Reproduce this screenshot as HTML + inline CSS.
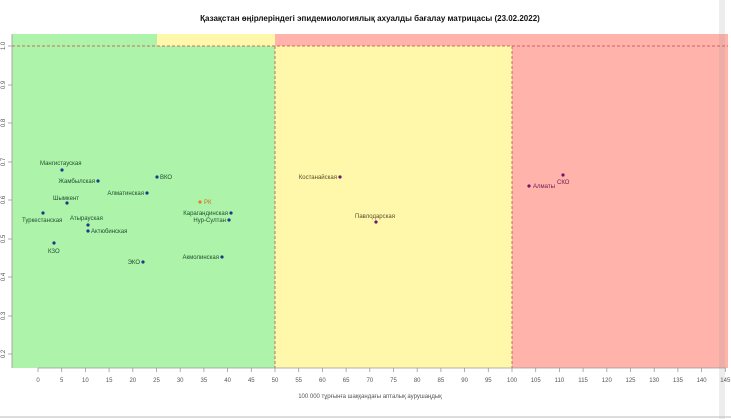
<!DOCTYPE html>
<html><head><meta charset="utf-8"><style>
html,body{margin:0;padding:0;background:#fff;}
svg{display:block;font-family:"Liberation Sans",sans-serif;}
</style></head><body>
<svg width="731" height="419" viewBox="0 0 731 419" xmlns="http://www.w3.org/2000/svg">
<rect width="731" height="419" fill="#fff"/>
<text x="370" y="21" font-size="8" font-weight="bold" text-anchor="middle" fill="#111">Қазақстан өңірлеріндегі эпидемиологиялық ахуалды бағалау матрицасы  (23.02.2022)</text>
<!-- regions -->
<rect x="12" y="34" width="145" height="12" fill="#aef3aa"/>
<rect x="157" y="34" width="118" height="12" fill="#fff8aa"/>
<rect x="275" y="34" width="453" height="12" fill="#ffb3ab"/>
<rect x="12" y="46" width="263" height="322" fill="#aef3aa"/>
<rect x="275" y="46" width="237" height="322" fill="#fff8aa"/>
<rect x="512" y="46" width="216" height="322" fill="#ffb3ab"/>
<rect x="719" y="0" width="6" height="419" fill="#999" opacity="0.18"/>
<g stroke="#c0504d" stroke-width="1" stroke-dasharray="3,2" fill="none" opacity="0.8">
<line x1="12" y1="46" x2="728" y2="46"/>
<line x1="275" y1="46" x2="275" y2="368"/>
<line x1="512" y1="46" x2="512" y2="368"/>
</g>
<!-- axes -->
<line x1="12" y1="34" x2="12" y2="368" stroke="#999" stroke-width="0.8"/>
<line x1="38" y1="368" x2="726" y2="368" stroke="#999" stroke-width="0.8"/>
<g font-size="6" fill="#555" text-anchor="middle">
<g stroke="#999" stroke-width="0.8">
<line x1="38" y1="368" x2="38" y2="372"/><line x1="61.7" y1="368" x2="61.7" y2="372"/><line x1="85.4" y1="368" x2="85.4" y2="372"/><line x1="109.1" y1="368" x2="109.1" y2="372"/><line x1="132.8" y1="368" x2="132.8" y2="372"/><line x1="156.5" y1="368" x2="156.5" y2="372"/><line x1="180.2" y1="368" x2="180.2" y2="372"/><line x1="203.9" y1="368" x2="203.9" y2="372"/><line x1="227.6" y1="368" x2="227.6" y2="372"/><line x1="251.3" y1="368" x2="251.3" y2="372"/><line x1="275" y1="368" x2="275" y2="372"/><line x1="298.7" y1="368" x2="298.7" y2="372"/><line x1="322.4" y1="368" x2="322.4" y2="372"/><line x1="346.1" y1="368" x2="346.1" y2="372"/><line x1="369.8" y1="368" x2="369.8" y2="372"/><line x1="393.5" y1="368" x2="393.5" y2="372"/><line x1="417.2" y1="368" x2="417.2" y2="372"/><line x1="440.9" y1="368" x2="440.9" y2="372"/><line x1="464.6" y1="368" x2="464.6" y2="372"/><line x1="488.3" y1="368" x2="488.3" y2="372"/><line x1="512" y1="368" x2="512" y2="372"/><line x1="535.7" y1="368" x2="535.7" y2="372"/><line x1="559.4" y1="368" x2="559.4" y2="372"/><line x1="583.1" y1="368" x2="583.1" y2="372"/><line x1="606.8" y1="368" x2="606.8" y2="372"/><line x1="630.5" y1="368" x2="630.5" y2="372"/><line x1="654.2" y1="368" x2="654.2" y2="372"/><line x1="677.9" y1="368" x2="677.9" y2="372"/><line x1="701.6" y1="368" x2="701.6" y2="372"/><line x1="725.3" y1="368" x2="725.3" y2="372"/>
</g>
<text x="38" y="382">0</text><text x="61.7" y="382">5</text><text x="85.4" y="382">10</text><text x="109.1" y="382">15</text><text x="132.8" y="382">20</text><text x="156.5" y="382">25</text><text x="180.2" y="382">30</text><text x="203.9" y="382">35</text><text x="227.6" y="382">40</text><text x="251.3" y="382">45</text><text x="275" y="382">50</text><text x="298.7" y="382">55</text><text x="322.4" y="382">60</text><text x="346.1" y="382">65</text><text x="369.8" y="382">70</text><text x="393.5" y="382">75</text><text x="417.2" y="382">80</text><text x="440.9" y="382">85</text><text x="464.6" y="382">90</text><text x="488.3" y="382">95</text><text x="512" y="382">100</text><text x="535.7" y="382">105</text><text x="559.4" y="382">110</text><text x="583.1" y="382">115</text><text x="606.8" y="382">120</text><text x="630.5" y="382">125</text><text x="654.2" y="382">130</text><text x="677.9" y="382">135</text><text x="701.6" y="382">140</text><text x="725.3" y="382">145</text>
<text x="370" y="398">100 000 тұрғынға шаққандағы апталық аурушаңдық</text>
</g>
<g font-size="6" fill="#555" stroke="none">
<g stroke="#999" stroke-width="0.8">
<line x1="8" y1="46" x2="12" y2="46"/><line x1="8" y1="85" x2="12" y2="85"/><line x1="8" y1="123" x2="12" y2="123"/><line x1="8" y1="162" x2="12" y2="162"/><line x1="8" y1="200" x2="12" y2="200"/><line x1="8" y1="239" x2="12" y2="239"/><line x1="8" y1="277" x2="12" y2="277"/><line x1="8" y1="316" x2="12" y2="316"/><line x1="8" y1="354" x2="12" y2="354"/>
</g>
<text transform="translate(5,46) rotate(-90)" text-anchor="middle">1.0</text>
<text transform="translate(5,85) rotate(-90)" text-anchor="middle">0.9</text>
<text transform="translate(5,123) rotate(-90)" text-anchor="middle">0.8</text>
<text transform="translate(5,162) rotate(-90)" text-anchor="middle">0.7</text>
<text transform="translate(5,200) rotate(-90)" text-anchor="middle">0.6</text>
<text transform="translate(5,239) rotate(-90)" text-anchor="middle">0.5</text>
<text transform="translate(5,277) rotate(-90)" text-anchor="middle">0.4</text>
<text transform="translate(5,316) rotate(-90)" text-anchor="middle">0.3</text>
<text transform="translate(5,354) rotate(-90)" text-anchor="middle">0.2</text>
</g>
<!-- points -->
<g fill="#1a3a8a">
<circle cx="62" cy="170" r="1.6"/><circle cx="98" cy="181" r="1.6"/><circle cx="157" cy="177" r="1.6"/><circle cx="147" cy="193" r="1.6"/><circle cx="67" cy="203" r="1.6"/><circle cx="43" cy="213" r="1.6"/><circle cx="88" cy="225" r="1.6"/><circle cx="88" cy="231" r="1.6"/><circle cx="231" cy="213" r="1.6"/><circle cx="229" cy="220" r="1.6"/><circle cx="54" cy="243" r="1.6"/><circle cx="143" cy="262" r="1.6"/><circle cx="222" cy="257" r="1.6"/>
</g>
<circle cx="200" cy="202" r="1.6" fill="#e07a30"/>
<g fill="#6a1a6a"><circle cx="340" cy="177" r="1.6"/><circle cx="376" cy="222" r="1.6"/><circle cx="529" cy="186" r="1.6"/><circle cx="563" cy="175" r="1.6"/></g>
<g font-size="6" fill="#1f4f2f">
<text x="40" y="165">Мангистауская</text>
<text x="95" y="183" text-anchor="end">Жамбылская</text>
<text x="160" y="179">ВКО</text>
<text x="144" y="195" text-anchor="end">Алматинская</text>
<text x="53" y="200">Шымкент</text>
<text x="22" y="222">Туркестанская</text>
<text x="70" y="220">Атырауская</text>
<text x="91" y="233">Актюбинская</text>
<text x="228" y="215" text-anchor="end">Карагандинская</text>
<text x="226" y="222" text-anchor="end">Нур-Султан</text>
<text x="48" y="253">КЗО</text>
<text x="140" y="264" text-anchor="end">ЭКО</text>
<text x="219" y="259" text-anchor="end">Акмолинская</text>
</g>
<text x="204" y="204" font-size="6" fill="#d06a20">РК</text>
<g font-size="6" fill="#5a4a2a">
<text x="337" y="179" text-anchor="end">Костанайская</text>
<text x="355" y="218">Павлодарская</text>
</g>
<g font-size="6" fill="#6a1a4a">
<text x="533" y="188">Алматы</text>
<text x="557" y="184">СКО</text>
</g>
<line x1="0" y1="417" x2="731" y2="417" stroke="#bbb" stroke-width="1"/>
</svg>
</body></html>
